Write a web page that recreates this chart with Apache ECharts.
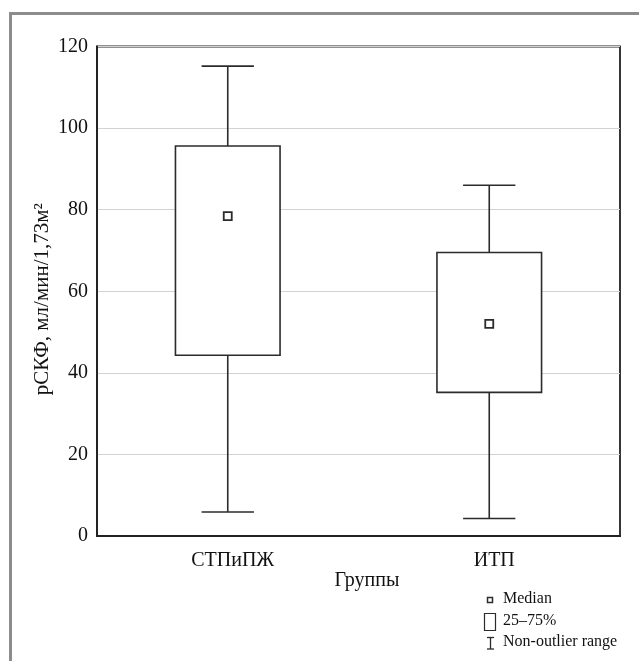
<!DOCTYPE html>
<html style="width:100%;height:100%">
<head>
    <meta charset="UTF-8">
    <title>rSKF boxplot</title>
    <script type="text/javascript" src="https://cdn.jsdelivr.net/npm/echarts@6/dist/echarts.min.js"></script>
</head>
<body style="margin:0;width:100%;height:100%;overflow:hidden;background:#fff">
    <div id="chart" style="width:639px;height:661px"></div>

    <script type="text/javascript">
        var myChart = echarts.init(document.getElementById('chart'));

        var groups = ['СТПиПЖ', 'ИТП'];
        // non-outlier min, 25%, median, 75%, non-outlier max
        var lows = [5.9, 4.3];
        var q1s = [44.3, 35.2];
        var medians = [78.4, 52.0];
        var q3s = [95.6, 69.5];
        var highs = [115.2, 86.0];
        var yTicks = [0, 20, 40, 60, 80, 100, 120];

        var font = 'Liberation Serif';
        var ink = '#2b2b2b';

        var boxData = groups.map(function (g, i) {
            return [i, lows[i], q1s[i], medians[i], q3s[i], highs[i]];
        });

        function renderBox(params, api) {
            var i = api.value(0);
            var band = api.size([1, 0])[0];
            var boxW = band * 0.4;
            var capW = boxW / 2;
            var lo = api.coord([i, api.value(1)]);
            var q1 = api.coord([i, api.value(2)]);
            var md = api.coord([i, api.value(3)]);
            var q3 = api.coord([i, api.value(4)]);
            var hi = api.coord([i, api.value(5)]);
            var x = lo[0];
            var st = { stroke: ink, lineWidth: 1.6, fill: null };
            return {
                type: 'group',
                children: [
                    { type: 'line', shape: { x1: x, y1: hi[1], x2: x, y2: q3[1] }, style: st },
                    { type: 'line', shape: { x1: x, y1: q1[1], x2: x, y2: lo[1] }, style: st },
                    { type: 'line', shape: { x1: x - capW / 2, y1: hi[1], x2: x + capW / 2, y2: hi[1] }, style: st },
                    { type: 'line', shape: { x1: x - capW / 2, y1: lo[1], x2: x + capW / 2, y2: lo[1] }, style: st },
                    { type: 'rect', shape: { x: x - boxW / 2, y: q3[1], width: boxW, height: q1[1] - q3[1] },
                      style: { stroke: ink, lineWidth: 1.6, fill: '#fff' } },
                    { type: 'rect', shape: { x: x - 4, y: md[1] - 4, width: 8, height: 8 },
                      style: { stroke: ink, lineWidth: 1.8, fill: '#fff' } }
                ]
            };
        }

        var legendFont = '16px "Liberation Serif"';

        var option = {
            animation: false,
            backgroundColor: '#fff',
            textStyle: { fontFamily: font },
            grid: {
                left: 97, right: 19, top: 46.5, bottom: 125,
                show: true, borderColor: '#222', borderWidth: 1.8
            },
            xAxis: {
                type: 'category',
                data: groups,
                name: 'Группы',
                nameLocation: 'middle',
                nameGap: 35,
                nameMoveOverlap: false,
                nameTextStyle: { fontFamily: font, fontSize: 20, color: '#111', padding: [0, 0, 0, 17] },
                axisLine: { lineStyle: { color: '#222', width: 1.8 } },
                axisTick: { show: false },
                axisLabel: { fontFamily: font, fontSize: 20, color: '#111', margin: 15, padding: [0, 0, 0, 10] },
                splitLine: { show: false }
            },
            yAxis: {
                type: 'value',
                min: yTicks[0],
                max: yTicks[yTicks.length - 1],
                interval: 20,
                name: 'рСКФ, мл/мин/1,73м²',
                nameLocation: 'middle',
                nameGap: 44,
                nameMoveOverlap: false,
                nameTextStyle: { fontFamily: font, fontSize: 21, color: '#111', padding: [0, 16, 0, 0] },
                axisLine: { show: true, lineStyle: { color: '#222', width: 1.8 } },
                axisTick: { show: false },
                axisLabel: { fontFamily: font, fontSize: 20, color: '#111', margin: 9 },
                splitLine: { show: true, lineStyle: { color: '#d2d2d2', width: 1.2 } }
            },
            series: [{
                type: 'custom',
                renderItem: renderBox,
                data: boxData,
                encode: { x: 0, y: [1, 2, 3, 4, 5] },
                z: 10
            }],
            graphic: [
                { type: 'rect', shape: { x: 10.5, y: 13.5, width: 700, height: 700 },
                  style: { stroke: '#8c8c8c', lineWidth: 3, fill: null }, silent: true },
                { type: 'rect', shape: { x: 487.5, y: 597.5, width: 5, height: 5 },
                  style: { stroke: ink, lineWidth: 1.5, fill: '#fff' } },
                { type: 'rect', shape: { x: 484.5, y: 613.5, width: 11, height: 17 },
                  style: { stroke: ink, lineWidth: 1.2, fill: '#fff' } },
                { type: 'polyline', shape: { points: [[487, 637.5], [494, 637.5]] }, style: { stroke: ink, lineWidth: 1.3 } },
                { type: 'polyline', shape: { points: [[490.5, 637.5], [490.5, 649]] }, style: { stroke: ink, lineWidth: 1.3 } },
                { type: 'polyline', shape: { points: [[487, 649], [494, 649]] }, style: { stroke: ink, lineWidth: 1.3 } },
                { type: 'text', x: 503, y: 599, style: { text: 'Median', font: legendFont, fill: '#111', verticalAlign: 'middle' } },
                { type: 'text', x: 503, y: 621, style: { text: '25–75%', font: legendFont, fill: '#111', verticalAlign: 'middle' } },
                { type: 'text', x: 503, y: 642, style: { text: 'Non-outlier range', font: legendFont, fill: '#111', verticalAlign: 'middle' } }
            ]
        };

        myChart.setOption(option);
    </script>
</body>
</html>
